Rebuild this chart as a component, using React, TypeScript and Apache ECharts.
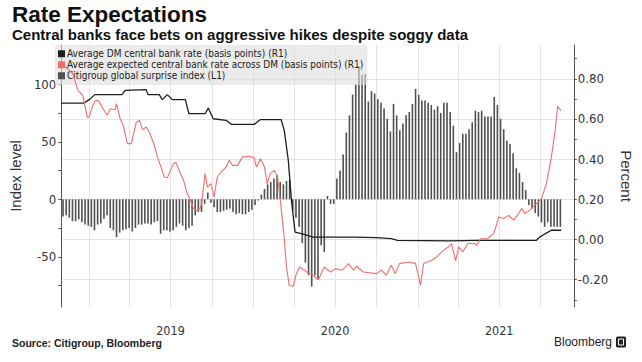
import React, { useEffect, useRef } from 'react';
import * as echarts from 'echarts';

const TITLE = 'Rate Expectations';
const SUBTITLE = 'Central banks face bets on aggressive hikes despite soggy data';
const SOURCE = 'Source: Citigroup, Bloomberg';
const BRAND = 'Bloomberg';
const SERIES_NAMES = [
  'Average DM central bank rate (basis points) (R1)',
  'Average expected central bank rate across DM (basis points) (R1)',
  'Citigroup global surprise index (L1)',
];
const LEFT_AXIS_NAME = 'Index level';
const RIGHT_AXIS_NAME = 'Percent';

const X_MIN = '2018-10-31';
const X_MAX = '2021-12-14';
const QUARTER_TICKS = [
  '2019-01-01', '2019-04-01', '2019-07-01', '2019-10-01',
  '2020-01-01', '2020-04-01', '2020-07-01', '2020-10-01',
  '2021-01-01', '2021-04-01', '2021-07-01', '2021-10-01',
];
const YEAR_LABEL_POS = ['2019-07-01', '2020-07-01', '2021-07-01'];

const LEFT_MIN = -93.7;
const LEFT_MAX = 134.2;
const LEFT_TICKS = [-75, -50, -25, 0, 25, 50, 75, 100, 125];
const LEFT_LABELS = [-50, 0, 50, 100];
const RIGHT_MIN = -0.336;
const RIGHT_MAX = 0.968;
const RIGHT_TICKS = [-0.3, -0.2, -0.1, 0, 0.1, 0.2, 0.3, 0.4, 0.5, 0.6, 0.7, 0.8, 0.9];
const RIGHT_LABELS = [-0.2, 0, 0.2, 0.4, 0.6, 0.8];

// Citigroup global surprise index, weekly, first week 2018-11-04
const SURPRISE_FIRST_WEEK = '2018-11-04';
const surpriseIndex = [
  -15, -14, -16, -19, -19, -17.5, -20, -22, -23, -24,
  -27, -22, -21, -17, -14, -25, -27, -33, -29, -27,
  -26, -25, -28, -25, -22, -22, -21, -21, -22, -20,
  -19, -30, -27, -27, -28, -27, -24, -21, -23, -27,
  -25, -23, -14, -11, -11, -4, 6, -3, -7, -11,
  -11, -10, -9, -8, -11, -13, -12, -13, -13, -11,
  -9, -5, -1, 4, 9, 13, 15, 18, 21, 15,
  13, 16, 17, -10, -16, -24, -38, -55, -66, -76,
  -66, -70, -40, -46, 3, -4, -4, 18, 25, 39,
  58, 73, 91, 100, 116, 108, 109, 85, 94, 92,
  87, 84, 79, 70, 59, 83, 73, 60, 66, 73,
  76, 83, 96, 91, 86, 86, 84, 82, 78, 81,
  75, 84, 84, 76, 64, 41, 49, 57, 57, 61,
  67, 77, 76, 77, 72, 72, 72, 89, 82, 70,
  61, 51, 48, 40, 27, 23, 15, 8, -5, -8,
  -12, -15, -20, -24, -20, -24, -24, -24, -24,
];

// Average DM central bank rate, percent
const dmRate: [string, number][] = [
  ['2018-10-31', 0.679], ['2018-12-21', 0.679], ['2019-01-01', 0.696], ['2019-01-14', 0.721],
  ['2019-03-15', 0.721], ['2019-03-22', 0.742], ['2019-05-08', 0.746], ['2019-05-12', 0.721],
  ['2019-06-06', 0.721], ['2019-06-13', 0.696], ['2019-06-24', 0.721], ['2019-07-05', 0.696],
  ['2019-08-03', 0.696], ['2019-08-11', 0.626], ['2019-09-16', 0.626], ['2019-09-23', 0.654],
  ['2019-10-04', 0.601], ['2019-11-02', 0.593], ['2019-11-13', 0.573], ['2020-01-03', 0.573],
  ['2020-01-17', 0.597], ['2020-03-03', 0.597], ['2020-03-10', 0.543], ['2020-03-19', 0.394],
  ['2020-03-26', 0.195], ['2020-04-03', 0.037], ['2020-04-17', 0.029], ['2020-05-13', 0.012],
  ['2020-08-11', 0.012], ['2020-10-01', 0.009], ['2020-11-03', 0.004], ['2020-11-17', -0.004],
  ['2021-03-10', -0.007], ['2021-05-14', -0.004], ['2021-09-22', -0.004], ['2021-09-29', 0.012],
  ['2021-10-14', 0.032], ['2021-10-25', 0.046], ['2021-11-16', 0.046],
];

// Average expected central bank rate across DM, percent
const expectedRate: [string, number][] = [
  ['2018-10-31', 0.88], ['2018-11-26', 0.825], ['2018-12-07', 0.742], ['2018-12-18', 0.717],
  ['2018-12-28', 0.609], ['2019-01-01', 0.609], ['2019-01-08', 0.659], ['2019-01-15', 0.693],
  ['2019-01-22', 0.69], ['2019-01-30', 0.659], ['2019-02-10', 0.618], ['2019-02-17', 0.651],
  ['2019-02-28', 0.646], ['2019-03-03', 0.676], ['2019-03-11', 0.601], ['2019-03-18', 0.568],
  ['2019-03-27', 0.477], ['2019-04-05', 0.477], ['2019-04-16', 0.583], ['2019-04-23', 0.593],
  ['2019-04-30', 0.547], ['2019-05-08', 0.56], ['2019-05-15', 0.535], ['2019-05-26', 0.469],
  ['2019-06-02', 0.41], ['2019-06-10', 0.361], ['2019-06-17', 0.311], ['2019-06-24', 0.307],
  ['2019-07-01', 0.344], ['2019-07-08', 0.378], ['2019-07-13', 0.384], ['2019-07-23', 0.328],
  ['2019-07-30', 0.295], ['2019-08-06', 0.236], ['2019-08-14', 0.195], ['2019-08-21', 0.155],
  ['2019-08-28', 0.145], ['2019-09-05', 0.154], ['2019-09-08', 0.179], ['2019-09-16', 0.328],
  ['2019-09-21', 0.261], ['2019-09-29', 0.278], ['2019-10-06', 0.211], ['2019-10-13', 0.311],
  ['2019-10-22', 0.336], ['2019-11-02', 0.361], ['2019-11-09', 0.394], ['2019-11-16', 0.369],
  ['2019-11-27', 0.369], ['2019-12-08', 0.41], ['2019-12-23', 0.414], ['2020-01-03', 0.407],
  ['2020-01-08', 0.361], ['2020-01-17', 0.402], ['2020-01-26', 0.361], ['2020-02-01', 0.278],
  ['2020-02-08', 0.328], ['2020-02-17', 0.344], ['2020-02-24', 0.311], ['2020-03-02', 0.179],
  ['2020-03-09', 0.029], ['2020-03-15', -0.137], ['2020-03-21', -0.228], ['2020-03-30', -0.233],
  ['2020-04-06', -0.17], ['2020-04-13', -0.137], ['2020-04-24', -0.153], ['2020-05-04', -0.17],
  ['2020-05-09', -0.17], ['2020-05-20', -0.193], ['2020-05-26', -0.195], ['2020-06-07', -0.137],
  ['2020-06-21', -0.162], ['2020-07-02', -0.145], ['2020-07-17', -0.153], ['2020-07-31', -0.12],
  ['2020-08-11', -0.153], ['2020-08-18', -0.133], ['2020-09-02', -0.162], ['2020-10-01', -0.17],
  ['2020-10-12', -0.153], ['2020-10-23', -0.178], ['2020-11-03', -0.128], ['2020-11-12', -0.17],
  ['2020-11-21', -0.12], ['2020-12-12', -0.112], ['2020-12-27', -0.12], ['2021-01-03', -0.187],
  ['2021-01-07', -0.228], ['2021-01-14', -0.12], ['2021-02-01', -0.103], ['2021-02-12', -0.087],
  ['2021-02-27', -0.054], ['2021-03-10', -0.037], ['2021-03-17', -0.02], ['2021-03-26', -0.107],
  ['2021-04-02', -0.037], ['2021-04-11', -0.062], ['2021-04-22', -0.02], ['2021-05-07', -0.02],
  ['2021-05-12', -0.029], ['2021-05-21', 0.004], ['2021-06-05', 0.004], ['2021-06-14', 0.021],
  ['2021-06-19', 0.029], ['2021-06-30', 0.112], ['2021-07-11', 0.104], ['2021-07-22', 0.12],
  ['2021-08-02', 0.096], ['2021-08-13', 0.129], ['2021-08-20', 0.154], ['2021-08-27', 0.129],
  ['2021-09-07', 0.145], ['2021-09-15', 0.165], ['2021-09-22', 0.179], ['2021-10-03', 0.203],
  ['2021-10-14', 0.278], ['2021-10-25', 0.41], ['2021-11-03', 0.553], ['2021-11-08', 0.663],
  ['2021-11-15', 0.64],
];

const toTs = (s: string) => {
  const [y, m, d] = s.split('-').map(Number);
  return new Date(y, m - 1, d).getTime();
};

const NARROW = "'Liberation Sans Narrow', 'DejaVu Sans Condensed', 'Liberation Sans', sans-serif";
const SANS = "'Liberation Sans', Arial, sans-serif";

export default function App() {
  const ref = useRef<HTMLDivElement>(null);

  useEffect(() => {
    if (!ref.current) return;
    const chart = echarts.init(ref.current, null, { renderer: 'svg' });

    const firstWeek = toTs(SURPRISE_FIRST_WEEK);
    const barData = surpriseIndex.map((v, i) => {
      const d = new Date(firstWeek);
      d.setDate(d.getDate() + i * 7);
      return [d.getTime(), v];
    });

    const gridColor = '#e4e4e4';
    const axisColor = '#555';
    const labelColor = '#333';

    chart.setOption({
      animation: false,
      backgroundColor: '#ffffff',
      grid: { left: 55, right: 64, top: 45, bottom: 55, containLabel: false },
      legend: {
        data: SERIES_NAMES,
        orient: 'vertical',
        left: 55,
        top: 45,
        icon: 'rect',
        itemWidth: 7,
        itemHeight: 7,
        itemGap: 0.5,
        padding: [3.5, 4, 4, 3],
        backgroundColor: 'rgba(222,222,222,0.6)',
        selectedMode: false,
        textStyle: { fontSize: 10, lineHeight: 10.5, color: '#222', fontFamily: NARROW, padding: [0, 0, 0, -3] },
      },
      xAxis: [
        {
          type: 'value',
          min: toTs(X_MIN),
          max: toTs(X_MAX),
          axisLine: { show: false },
          axisTick: { show: false, customValues: QUARTER_TICKS.map(toTs) },
          splitLine: { show: true, lineStyle: { color: gridColor, width: 1 } },
          axisLabel: {
            customValues: YEAR_LABEL_POS.map(toTs),
            formatter: (v: number) => String(new Date(v).getFullYear()),
            margin: 17,
            fontSize: 12.5,
            color: labelColor,
            fontFamily: NARROW,
          },
        },
      ],
      yAxis: [
        {
          type: 'value',
          position: 'left',
          min: LEFT_MIN,
          max: LEFT_MAX,
          name: LEFT_AXIS_NAME,
          nameLocation: 'middle',
          nameRotate: 90,
          nameGap: 30,
          nameTextStyle: { fontSize: 15, color: labelColor, fontFamily: SANS },
          axisLine: { show: true, lineStyle: { color: axisColor, width: 1 } },
          axisTick: { show: true, length: 3, customValues: LEFT_TICKS, lineStyle: { color: axisColor } },
          axisLabel: { customValues: LEFT_LABELS, margin: 5, fontSize: 13, color: labelColor, fontFamily: NARROW },
          splitLine: { show: false },
        },
        {
          type: 'value',
          position: 'right',
          min: RIGHT_MIN,
          max: RIGHT_MAX,
          name: RIGHT_AXIS_NAME,
          nameLocation: 'middle',
          nameRotate: -90,
          nameGap: 35,
          nameTextStyle: { fontSize: 15, color: labelColor, fontFamily: SANS },
          axisLine: { show: true, lineStyle: { color: axisColor, width: 1 } },
          axisTick: { show: true, length: 3, customValues: RIGHT_TICKS, lineStyle: { color: axisColor } },
          axisLabel: {
            customValues: RIGHT_LABELS,
            formatter: (v: number) => v.toFixed(2),
            margin: 4,
            fontSize: 13,
            color: labelColor,
            fontFamily: NARROW,
          },
          splitLine: { show: false },
        },
        {
          type: 'value',
          position: 'right',
          min: RIGHT_MIN,
          max: RIGHT_MAX,
          axisLine: { show: false },
          axisTick: { show: false, customValues: RIGHT_LABELS },
          axisLabel: { show: false },
          splitLine: { show: true, lineStyle: { color: gridColor, width: 1 } },
        },
      ],
      series: [
        {
          name: SERIES_NAMES[2],
          type: 'bar',
          yAxisIndex: 0,
          data: barData,
          barWidth: 1.6,
          itemStyle: { color: '#505050' },
          z: 2,
        },
        {
          name: SERIES_NAMES[0],
          type: 'line',
          yAxisIndex: 1,
          data: dmRate.map(([d, v]) => [toTs(d), v]),
          showSymbol: false,
          symbol: 'none',
          lineStyle: { color: '#1e1e1e', width: 1.3 },
          itemStyle: { color: '#1e1e1e' },
          z: 3,
        },
        {
          name: SERIES_NAMES[1],
          type: 'line',
          yAxisIndex: 1,
          data: expectedRate.map(([d, v]) => [toTs(d), v]),
          showSymbol: false,
          symbol: 'none',
          lineStyle: { color: '#f26d6d', width: 1.1 },
          itemStyle: { color: '#f26d6d' },
          z: 4,
        },
      ],
      graphic: [
        {
          type: 'text', x: 12, y: 14,
          style: { text: TITLE, font: `bold 22.5px ${SANS}`, fill: '#111', verticalAlign: 'middle' },
        },
        {
          type: 'text', x: 12, y: 34,
          style: { text: SUBTITLE, font: `bold 15px ${SANS}`, fill: '#111', verticalAlign: 'middle' },
        },
        {
          type: 'text', x: 12, y: 343,
          style: { text: SOURCE, font: `bold 10.5px ${SANS}`, fill: '#222', verticalAlign: 'middle' },
        },
        {
          type: 'text', x: 612, y: 342,
          style: { text: BRAND, font: `12px ${SANS}`, fill: '#222', align: 'right', verticalAlign: 'middle' },
        },
        {
          type: 'rect', shape: { x: 616, y: 336.5, width: 10, height: 11, r: 1.5 },
          style: { fill: '#222' },
        },
        {
          type: 'rect', shape: { x: 618.5, y: 339, width: 5, height: 6 },
          style: { fill: 'none', stroke: '#fff', lineWidth: 1 },
        },
      ],
    });

    return () => chart.dispose();
  }, []);

  return (
    <div
      ref={ref}
      style={{ position: 'fixed', left: 0, top: 0, width: 642, height: 362, background: '#fff' }}
    />
  );
}
